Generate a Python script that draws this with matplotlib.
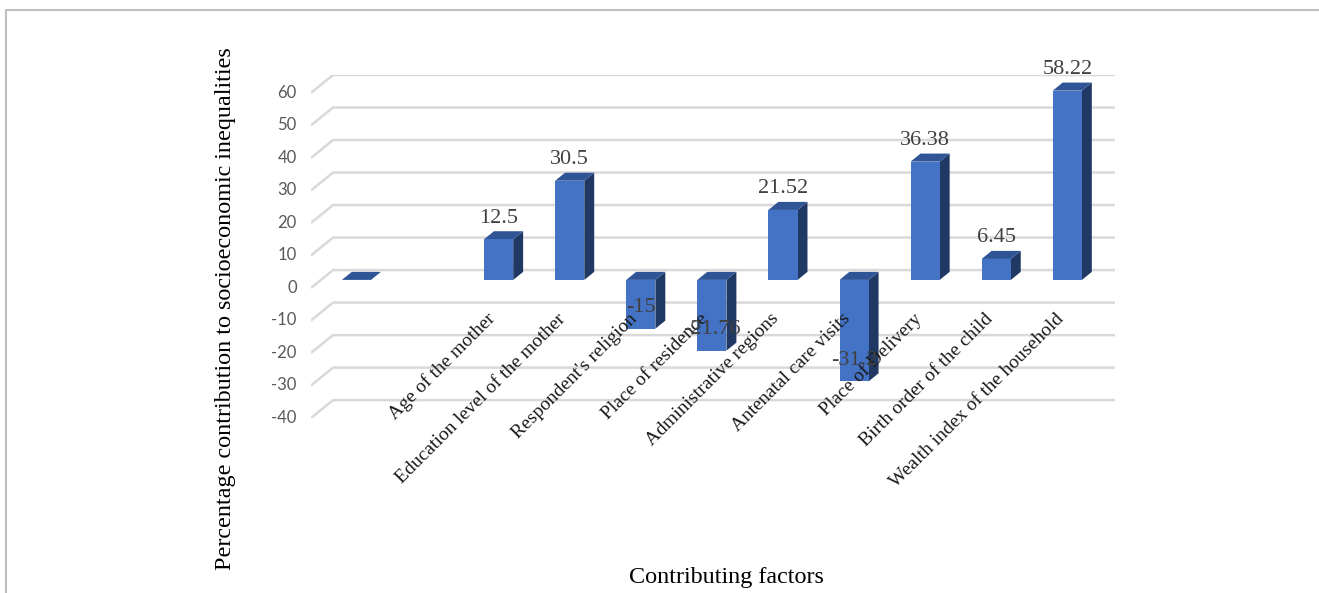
import numpy as np
import matplotlib.pyplot as plt
from matplotlib.patches import Polygon, Rectangle

# data
categories = ["", "", "Age of the mother", "Education level of the mother",
              "Respondent's religion", "Place of residence", "Administrative regions",
              "Antenatal care visits", "Place of Delivery", "Birth order of the child",
              "Wealth index of the household"]
values = [0, np.nan, 12.5, 30.5, -15, -21.76, 21.52, -31.2, 36.38, 6.45, 58.22]
value_labels = ["", "", "12.5", "30.5", "-15", "-21.76", "21.52", "-31.2", "36.38", "6.45", "58.22"]
yticks = list(range(-40, 61, 10))

# fake 3d settings (depth offsets in data units)
DX, DY = 0.31, 5.5
d_front, d_back = 0.45, 0.9
half_w = 0.205
c_front, c_top, c_side = "#4472C4", "#2F5597", "#1F3864"


def proj(x, v, d):
    return (x - (1 - d) * DX, v - (1 - d) * DY)


W, H = 1319, 593
fig = plt.figure(figsize=(W / 100, H / 100), dpi=100)
ax = fig.add_axes([311 / W, 1 - 418 / H, (1115 - 311) / W, (418 - 75) / H])
ax.set_xlim(-0.5 - DX, len(categories) - 0.5)
ax.set_ylim(yticks[0] - DY, yticks[-1])
ax.axis("off")

# gridlines on floor/back wall
x0, x1 = -0.5, len(categories) - 0.5
for v in yticks:
    xs = [x0 - DX, x0, x1]
    ys = [v - DY, v, v]
    ax.plot(xs, ys, color="#d9d9d9", lw=1.8, zorder=1, solid_capstyle="butt")
    ax.text(x0 - DX - 0.2, v - DY, str(v), ha="right", va="center",
            fontsize=12, color="#595959", family="Lato")

# bars
for i, v in enumerate(values):
    if np.isnan(v):
        continue
    fl = proj(i - half_w, 0, d_front)
    fr = proj(i + half_w, 0, d_front)
    tl = proj(i - half_w, v, d_front)
    tr = proj(i + half_w, v, d_front)
    btr = proj(i + half_w, v, d_back)
    bbr = proj(i + half_w, 0, d_back)
    top = max(v, 0)
    # side face
    ax.add_patch(Polygon([fr, tr, btr, bbr], closed=True, fc=c_side, ec="none", zorder=3))
    # top face at the upper end of the bar
    ttl = proj(i - half_w, top, d_front)
    ttr = proj(i + half_w, top, d_front)
    tbr = proj(i + half_w, top, d_back)
    tbl = proj(i - half_w, top, d_back)
    ax.add_patch(Polygon([ttl, ttr, tbr, tbl], closed=True, fc=c_top, ec="none", zorder=3))
    # front face
    if v != 0:
        ax.add_patch(Polygon([fl, fr, tr, tl], closed=True, fc=c_front, ec="none", zorder=4))

# value labels
for i, (v, lab) in enumerate(zip(values, value_labels)):
    if not lab:
        continue
    x, y = proj(i, v, d_front)
    ax.text(x, y + 6.5, lab, ha="center", va="center", fontsize=16,
            color="#404040", family="Liberation Serif", zorder=6)

# category labels
for i, lab in enumerate(categories):
    if not lab:
        continue
    x, _ = proj(i, 0, d_front)
    ax.text(x - 0.09, -14.2, lab, rotation=45, rotation_mode="anchor",
            ha="right", va="center", fontsize=14, color="#1a1a1a",
            family="Liberation Serif", zorder=5)

fig.text(226 / W, 1 - 309 / H, "Percentage contribution to socioeconomic inequalities",
         rotation=90, ha="center", va="center", fontsize=17.4, family="Liberation Serif")
fig.text(726 / W, 1 - 577 / H, "Contributing factors", ha="center", va="center",
         fontsize=17.4, family="Liberation Serif")

# outer frame
fig.patches.append(Rectangle((6 / W, -0.1), 1.2, 1 - 10 / H + 0.1, transform=fig.transFigure,
                             fill=False, ec="#bfbfbf", lw=1.5))

fig.savefig("out.png", dpi=100)
